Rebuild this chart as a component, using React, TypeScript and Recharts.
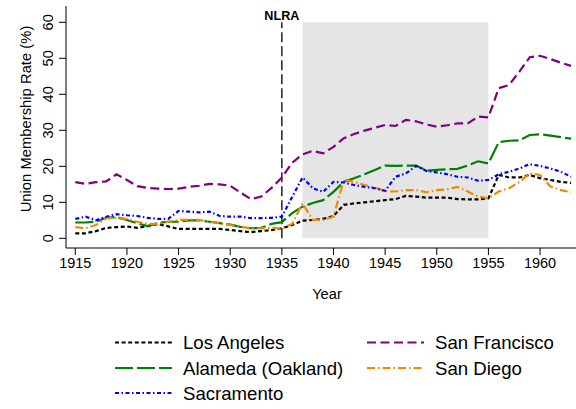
import React from 'react';
import { LineChart, Line, XAxis, YAxis, ReferenceArea, ReferenceLine, ReferenceDot } from 'recharts';

const years: number[] = [
  1915, 1916, 1917, 1918, 1919, 1920, 1921, 1922, 1923, 1924,
  1925, 1926, 1927, 1928, 1929, 1930, 1931, 1932, 1933, 1934,
  1935, 1936, 1937, 1938, 1939, 1940, 1941, 1942, 1943, 1944,
  1945, 1946, 1947, 1948, 1949, 1950, 1951, 1952, 1953, 1954,
  1955, 1956, 1957, 1958, 1959, 1960, 1961, 1962, 1963,
];

const losAngeles: number[] = [
  1.4, 1.4, 2.0, 2.9, 3.1, 3.3, 2.9, 3.4, 4.0, 3.3,
  2.6, 2.6, 2.6, 2.6, 2.6, 2.3, 2.0, 1.7, 2.0, 2.3,
  2.8, 3.7, 4.9, 5.1, 5.4, 6.2, 9.3, 9.7, 10.0, 10.3,
  10.6, 10.9, 11.8, 11.6, 11.3, 11.3, 11.3, 10.9, 10.8, 10.8,
  11.1, 17.6, 16.9, 16.9, 17.6, 16.7, 16.2, 15.7, 15.4,
];

const sanFrancisco: number[] = [
  15.6, 15.1, 15.6, 15.8, 17.8, 16.2, 14.5, 14.0, 13.8, 13.7,
  13.8, 14.3, 14.6, 15.1, 15.0, 14.6, 12.7, 10.9, 11.6, 14.0,
  16.9, 21.0, 23.3, 24.3, 23.6, 25.4, 27.8, 29.0, 29.9, 30.7,
  31.5, 31.2, 32.9, 32.5, 31.6, 31.0, 31.4, 31.9, 31.9, 33.8,
  33.6, 41.7, 42.6, 46.3, 50.3, 50.7, 49.8, 48.8, 47.9,
];

const alameda: number[] = [
  4.4, 4.4, 4.6, 5.7, 5.9, 5.1, 4.2, 3.4, 4.3, 4.6,
  4.6, 5.0, 5.0, 4.6, 4.2, 3.8, 3.2, 2.8, 2.9, 4.0,
  4.5, 7.0, 8.8, 9.8, 10.6, 12.9, 15.7, 16.7, 17.8, 19.0,
  20.2, 20.1, 20.2, 20.2, 18.8, 19.0, 19.2, 19.3, 20.2, 21.4,
  20.8, 26.7, 27.1, 27.2, 28.7, 28.9, 28.5, 28.1, 27.7,
];

const sacramento: number[] = [
  5.4, 6.0, 5.0, 6.0, 6.7, 6.4, 6.2, 5.7, 5.4, 5.4,
  7.6, 7.4, 7.2, 7.4, 6.2, 6.0, 6.0, 5.6, 5.6, 5.7,
  6.0, 11.5, 16.9, 13.9, 12.9, 15.7, 15.5, 14.8, 14.3, 13.9,
  13.2, 17.1, 18.0, 20.1, 18.7, 18.3, 17.8, 17.1, 16.9, 16.0,
  16.2, 17.8, 18.5, 19.4, 20.6, 20.1, 19.4, 18.5, 17.1,
];

const sanDiego: number[] = [
  3.1, 2.8, 3.7, 5.6, 5.6, 5.4, 4.6, 4.0, 4.0, 4.6,
  5.1, 5.1, 5.1, 4.6, 4.2, 3.7, 3.2, 2.8, 2.8, 2.9,
  2.7, 4.0, 9.7, 5.1, 5.1, 6.0, 16.2, 15.7, 14.8, 14.1,
  13.1, 13.0, 13.4, 13.4, 12.8, 13.4, 13.6, 14.3, 13.0, 11.6,
  11.1, 13.0, 13.9, 15.7, 18.0, 17.6, 14.4, 13.4, 12.8,
];

const xTicks: number[] = [1915, 1920, 1925, 1930, 1935, 1940, 1945, 1950, 1955, 1960];
const yTicks: number[] = [0, 10, 20, 30, 40, 50, 60];

const nlraYear = 1935;
const shadeStart = 1937;
const shadeEnd = 1955;

const series = [
  { key: 'la', name: 'Los Angeles', color: '#000000', dash: '4 2.6', values: losAngeles },
  { key: 'sf', name: 'San Francisco', color: '#800080', dash: '9 4.5', values: sanFrancisco },
  { key: 'al', name: 'Alameda (Oakland)', color: '#008000', dash: '18 4', values: alameda },
  { key: 'sd', name: 'San Diego', color: '#ee8a00', dash: '8 3 1.5 3', values: sanDiego },
  { key: 'sc', name: 'Sacramento', color: '#0000ff', dash: '4 2.5 1.5 2.5', values: sacramento },
];

const data = years.map((y, i) => {
  const row: Record<string, number> = { year: y };
  series.forEach((s) => {
    row[s.key] = s.values[i];
  });
  return row;
});

const FONT = '"Liberation Sans", Arial, Helvetica, sans-serif';

const YTick = (props: any) => {
  const { y, payload } = props;
  const x = 53;
  return (
    <text
      x={x}
      y={y}
      transform={`rotate(-90, ${x}, ${y})`}
      textAnchor="middle"
      fontSize={14.5}
      fontFamily={FONT}
      fill="#000"
    >
      {payload.value}
    </text>
  );
};

const legendLayout = [
  { key: 'la', col: 0, row: 0 },
  { key: 'sf', col: 1, row: 0 },
  { key: 'al', col: 0, row: 1 },
  { key: 'sd', col: 1, row: 1 },
  { key: 'sc', col: 0, row: 2 },
];

export default function App() {
  const colX = [115, 367];
  const rowY = [342.5, 368, 393];
  return (
    <div style={{ position: 'absolute', left: 0, top: 0, width: 576, height: 409, background: '#fff' }}>
      <LineChart
        width={576}
        height={409}
        data={data}
        margin={{ top: 6, right: 0, bottom: 111, left: 0 }}
        style={{ fontFamily: FONT }}
      >
        <ReferenceArea
          x1={shadeStart}
          x2={shadeEnd}
          y1={0}
          y2={60}
          fill="#e5e5e5"
          fillOpacity={1}
          stroke="none"
        />
        <XAxis
          dataKey="year"
          type="number"
          domain={[1914.1, 1963.48]}
          ticks={xTicks}
          allowDataOverflow
          height={50}
          tickSize={7}
          tickMargin={3}
          stroke="#000"
          tick={{ fill: '#000', fontSize: 14.5, fontFamily: FONT }}
          axisLine={{ stroke: '#000' }}
          tickLine={{ stroke: '#000' }}
          label={(p: any) => {
            const vb = p.viewBox;
            return (
              <text
                x={vb.x + vb.width / 2 + 6}
                y={vb.y + 51.3}
                textAnchor="middle"
                fontSize={14.7}
                fontFamily={FONT}
                fill="#000"
              >
                Year
              </text>
            );
          }}
        />
        <YAxis
          type="number"
          domain={[-2.69, 64.53]}
          ticks={yTicks}
          allowDataOverflow
          width={66}
          tickSize={7}
          stroke="#000"
          tick={<YTick />}
          axisLine={{ stroke: '#000' }}
          tickLine={{ stroke: '#000' }}
          label={() => (
            <text
              x={31}
              y={119}
              transform="rotate(-90, 31, 119)"
              textAnchor="middle"
              fontSize={14.8}
              fontFamily={FONT}
              fill="#000"
            >
              Union Membership Rate (%)
            </text>
          )}
        />
        <ReferenceLine
          segment={[
            { x: nlraYear, y: 0 },
            { x: nlraYear, y: 60 },
          ]}
          stroke="#222"
          strokeWidth={1.5}
          strokeDasharray="10 4"
        />
        <ReferenceDot
          x={nlraYear}
          y={62}
          r={0}
          fill="none"
          stroke="none"
          label={{
            value: 'NLRA',
            position: 'center',
            fill: '#000',
            fontSize: 12.6,
            fontWeight: 'bold',
            fontFamily: FONT,
          }}
        />
        {series.map((s) => (
          <Line
            key={s.key}
            type="linear"
            dataKey={s.key}
            name={s.name}
            stroke={s.color}
            strokeWidth={2.2}
            strokeDasharray={s.dash}
            dot={false}
            activeDot={false}
            isAnimationActive={false}
          />
        ))}
      </LineChart>
      <svg
        width={576}
        height={409}
        style={{ position: 'absolute', left: 0, top: 0, pointerEvents: 'none' }}
      >
        {legendLayout.map((l) => {
          const s = series.find((ss) => ss.key === l.key)!;
          const x = colX[l.col];
          const y = rowY[l.row];
          return (
            <g key={l.key}>
              <line
                x1={x}
                x2={x + 57}
                y1={y}
                y2={y}
                stroke={s.color}
                strokeWidth={2.2}
                strokeDasharray={s.dash}
              />
              <text
                x={x + 68}
                y={y + 6.6}
                fontSize={18.6}
                fontFamily={FONT}
                fill="#000"
              >
                {s.name}
              </text>
            </g>
          );
        })}
      </svg>
    </div>
  );
}
